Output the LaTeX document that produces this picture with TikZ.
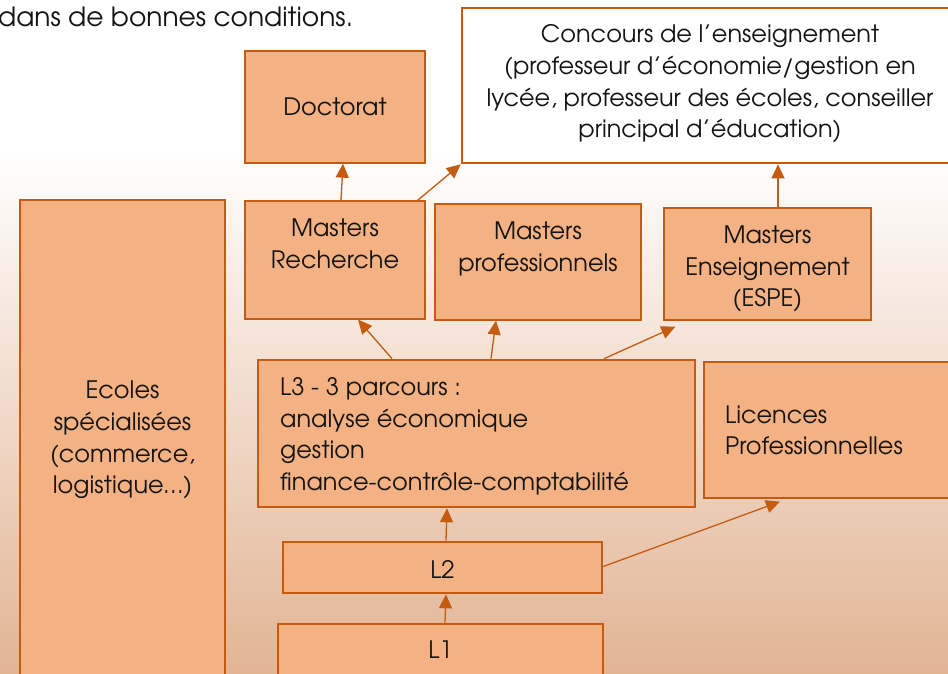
\documentclass[tikz,border=0pt]{standalone}
\usepackage{fontspec}
\setmainfont{TeX Gyre Adventor}
\usetikzlibrary{arrows.meta}
\definecolor{boxfill}{RGB}{244,177,131}
\definecolor{boxline}{RGB}{197,90,17}
\definecolor{bgbot}{RGB}{226,180,148}
\definecolor{txtcol}{RGB}{20,20,20}
\begin{document}
\begin{tikzpicture}[x=1pt,y=-1pt,
  box/.style={draw=boxline, fill=boxfill, line width=1.3pt, inner sep=0pt},
  thickbox/.style={box, line width=2.6pt},
  txt/.style={font=\fontsize{24}{30}\selectfont, text=txtcol, inner sep=0pt, anchor=base},
  arr/.style={draw=boxline, line width=1.3pt, -{Triangle[length=14pt,width=13pt]}}]
\useasboundingbox (0,0) rectangle (948,674);
\clip (0,0) rectangle (948,674);
\fill[white] (0,0) rectangle (948,150);
\shade[top color=white, bottom color=bgbot] (0,148) rectangle (948,674);

\node[txt, anchor=base west, font=\fontsize{26.5}{30}\selectfont] (intro) at (-2,27) {dans de bonnes conditions.};

% boxes
\node[box, minimum width=180, minimum height=112] (doc) at (335,107) {};
\node[thickbox, fill=white, minimum width=496, minimum height=155] (conc) at (710,85.5) {};
\node[box, minimum width=180, minimum height=118] (mr) at (335,260) {};
\node[box, minimum width=206, minimum height=116] (mp) at (538,262) {};
\node[box, minimum width=207, minimum height=112] (me) at (767.5,264) {};
\node[box, minimum width=205, minimum height=500] (ec) at (122.5,450) {};
\node[thickbox, minimum width=437, minimum height=147] (l3) at (476.5,433.5) {};
\node[box, minimum width=256, minimum height=136] (lp) at (832,430) {};
\node[thickbox, minimum width=319, minimum height=51] (l2) at (442.5,567.5) {};
\node[thickbox, minimum width=325, minimum height=76] (l1) at (440.5,662) {};

% texts
\node[txt] (docT) at (335,116) {Doctorat};
\node[txt] (concA) at (710,43) {Concours de l’enseignement};
\node[txt] (concB) at (710,75) {(professeur d’économie/gestion en};
\node[txt] (concC) at (710,107) {lycée, professeur des écoles, conseiller};
\node[txt] (concD) at (710,138) {principal d’éducation)};
\node[txt] (mrA) at (335,236) {Masters};
\node[txt] (mrB) at (335,268) {Recherche};
\node[txt] (mpA) at (538,239) {Masters};
\node[txt] (mpB) at (538,271) {professionnels};
\node[txt] (meA) at (767.5,243) {Masters};
\node[txt] (meB) at (767.5,275) {Enseignement};
\node[txt] (meC) at (767.5,306) {(ESPE)};
\node[txt] (ecA) at (122.5,398) {Ecoles};
\node[txt] (ecB) at (122.5,430) {spécialisées};
\node[txt] (ecC) at (122.5,462) {(commerce,};
\node[txt] (ecD) at (122.5,493) {logistique…)};
\node[txt, anchor=base west] (l3A) at (280,395) {L3 - 3 parcours :};
\node[txt, anchor=base west] (l3B) at (280,427) {analyse économique};
\node[txt, anchor=base west] (l3C) at (280,458) {gestion};
\node[txt, anchor=base west] (l3D) at (280,490) {finance-contrôle-comptabilité};
\node[txt, anchor=base west] (lpA) at (725,423) {Licences};
\node[txt, anchor=base west] (lpB) at (725,454) {Professionnelles};
\node[txt] (l2T) at (442.5,578) {L2};
\node[txt] (l1T) at (440.5,658) {L1};

% connectors
\draw[arr] ([xshift=6pt]mr.north) -- ([xshift=8pt]doc.south);
\draw[arr] ([xshift=-8pt]mr.north east) -- (conc.south west);
\draw[arr] ([xshift=10.5pt]me.north) -- ([xshift=10.5pt]me.north |- conc.south);
\draw[arr] ([xshift=-84.5pt]l3.north) -- ([xshift=23pt]mr.south);
\draw[arr] ([xshift=14.5pt]l3.north) -- ([xshift=-42pt]mp.south);
\draw[arr] ([xshift=127.5pt]l3.north) -- ([shift={(12pt,-6pt)}]me.south west);
\draw[arr] ([xshift=3.5pt]l2.north) -- ([xshift=-29.5pt]l3.south);
\draw[arr] ([xshift=4.5pt]l1.north) -- ([xshift=3.5pt]l2.south);
\draw[arr] ([yshift=1pt]l2.east) -- ([shift={(-52pt,-3pt)}]lp.south);
\end{tikzpicture}
\end{document}
